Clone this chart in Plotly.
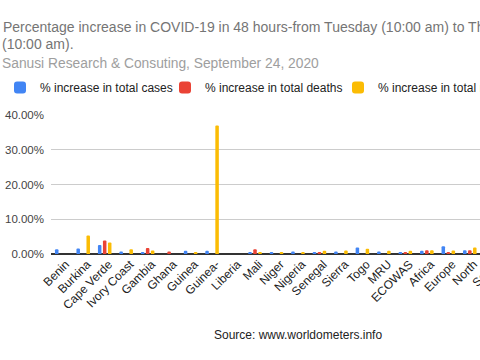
import plotly.graph_objects as go

categories = ["Benin", "Burkina", "Cape Verde", "Ivory Coast", "Gambia", "Ghana", "Guinea",
              "Guinea-", "Liberia", "Mali", "Niger", "Nigeria", "Senegal", "Sierra", "Togo",
              "MRU", "ECOWAS", "Africa", "Europe", "North", "South"]
cases = [1.4, 1.6, 2.6, 0.7, 0.5, 0.0, 0.9, 0.9, 0.0, 0.4, 0.4, 0.7, 0.4, 0.7, 1.9,
         0.7, 0.6, 0.9, 2.2, 1.1, None]
deaths = [0.0, 0.0, 3.9, 0.0, 1.7, 0.7, 0.0, 0.0, 0.0, 1.4, 0.0, 0.0, 0.4, 0.0, 0.0,
          0.0, 0.3, 1.1, 0.6, 1.1, None]
recoveries = [0.0, 5.3, 3.3, 1.4, 1.0, 0.0, 0.4, 37.0, 0.0, 0.4, 0.3, 0.6, 0.9, 1.0, 1.5,
              0.9, 0.9, 1.1, 1.0, 1.9, None]
series_names = ["% increase in total cases", "% increase in total deaths",
                "% increase in total recoveries"]
colors = ["#4285F4", "#EA4335", "#FBBC04"]
y_ticks = [0, 10, 20, 30, 40]

W, H = 560, 360
FONT = "Arial, Liberation Sans, sans-serif"
L, R, T, B = 51, 502, 115, 254  # plot area in pixels

fig = go.Figure()
legend_ids = ["legend", "legend2", "legend3"]
for name, vals, col, lg in zip(series_names, [cases, deaths, recoveries], colors, legend_ids):
    fig.add_trace(go.Bar(x=categories, y=vals, name=name, marker_color=col,
                         marker_line_width=0, marker_cornerradius=2, legend=lg))

legend_x = [0, 165, 338]
legend_common = dict(orientation="h", xref="container", yref="container",
                     xanchor="left", yanchor="top", y=1 - 73 / H,
                     font=dict(size=12, color="#222222"), itemwidth=30,
                     bgcolor="rgba(0,0,0,0)", borderwidth=0)
fig.update_layout(
    width=W, height=H,
    margin=dict(l=L, r=W - R, t=T, b=H - B, autoexpand=False),
    paper_bgcolor="white", plot_bgcolor="white",
    font=dict(family=FONT, color="#222222"),
    barmode="group", bargap=0.3, bargroupgap=0.3,
    title=dict(text="Percentage increase in COVID-19 in 48 hours-from Tuesday (10:00 am) to Thursday",
               x=3 / W, xanchor="left", xref="container",
               y=1 - 27 / H, yanchor="middle", yref="container",
               font=dict(size=14, color="#757575", family=FONT)),
    legend=dict(x=legend_x[0] / W, **legend_common),
    legend2=dict(x=legend_x[1] / W, **legend_common),
    legend3=dict(x=legend_x[2] / W, **legend_common),
    showlegend=True,
)

def px_annot(text, x, y, size, color, anchor="left"):
    fig.add_annotation(text=text, xref="x domain", yref="y domain",
                       x=(x - L) / (R - L), y=(B - y) / (B - T), showarrow=False,
                       xanchor=anchor, yanchor="middle",
                       font=dict(size=size, color=color, family=FONT))

px_annot("(10:00 am).", 0, 43.5, 14, "#757575")
px_annot("Sanusi Research & Consuting, September 24, 2020", 0, 63.5, 13.8, "#9E9E9E")
px_annot("Source: www.worldometers.info", 298, 335, 12, "#222222", anchor="center")

fig.update_yaxes(range=[0, 40], tickvals=y_ticks, ticktext=[f"{v:.2f}%" for v in y_ticks],
                 showgrid=True, gridcolor="#CCCCCC", gridwidth=1,
                 zeroline=True, zerolinecolor="#333333", zerolinewidth=1.5,
                 tickfont=dict(size=11.5, color="#444444"), ticks="", showline=False,
                 ticklabelstandoff=6)
fig.update_xaxes(tickangle=-45, tickfont=dict(size=12, color="#222222"),
                 showgrid=False, ticks="", showline=False, range=[-0.5, 20.5],
                 ticklabelshift=4)

fig.write_html("out.html", config={"displayModeBar": False},
               post_script="document.body.style.margin='0';document.body.style.overflow='hidden';document.documentElement.style.overflow='hidden';")
